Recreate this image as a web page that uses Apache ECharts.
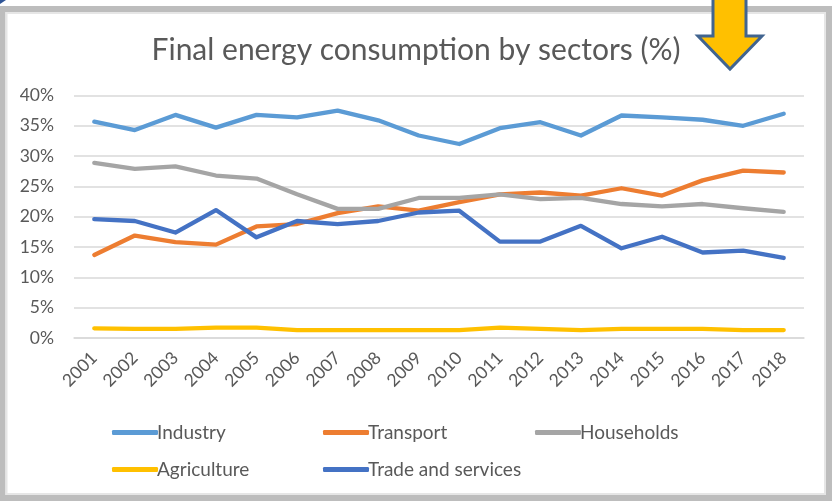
<!DOCTYPE html>
<html>
<head>
<meta charset="utf-8">
<script src="https://cdn.jsdelivr.net/npm/echarts@6/dist/echarts.min.js"></script>
<style>
html,body{margin:0;padding:0;background:#fff;}
#chart{width:832px;height:501px;}
</style>
</head>
<body>
<div id="chart"></div>
<script>
const years = ['2001','2002','2003','2004','2005','2006','2007','2008','2009','2010','2011','2012','2013','2014','2015','2016','2017','2018'];
const industry = [35.7,34.3,36.8,34.7,36.8,36.4,37.5,35.9,33.4,32.0,34.6,35.6,33.4,36.7,36.4,36.0,35.0,37.0];
const transport = [13.7,16.9,15.8,15.4,18.4,18.8,20.6,21.7,21.0,22.4,23.7,24.0,23.5,24.7,23.5,26.0,27.6,27.3];
const households = [28.9,27.9,28.3,26.8,26.3,23.7,21.3,21.3,23.1,23.1,23.7,22.9,23.1,22.1,21.7,22.1,21.4,20.8];
const agriculture = [1.6,1.5,1.5,1.7,1.7,1.3,1.3,1.3,1.3,1.3,1.7,1.5,1.3,1.5,1.5,1.5,1.3,1.3];
const trade = [19.6,19.3,17.4,21.1,16.6,19.3,18.8,19.3,20.7,21.0,15.9,15.9,18.5,14.8,16.7,14.1,14.4,13.2];
const yTicks = [0,5,10,15,20,25,30,35,40];

const names = ['Industry','Transport','Households','Agriculture','Trade and services'];
const colors = ['#5B9BD5','#ED7D31','#A5A5A5','#FFC000','#4472C4'];
const datas = [industry, transport, households, agriculture, trade];
const legendPos = [[107,418],[318,418],[530,418],[107,455],[318,455]];

const FONT = 'Lato';
const chart = echarts.init(document.getElementById('chart'));

const legends = names.map((n,i)=>({
  data:[n], left:legendPos[i][0], top:legendPos[i][1], itemWidth:46, itemHeight:5, itemGap:0,
  icon:'roundRect',
  textStyle:{fontFamily:FONT,fontSize:19,color:'#595959',padding:[0,0,0,-6]},
  selectedMode:false
}));

chart.setOption({
  animation:false,
  backgroundColor:'#fff',
  title:{text:'Final energy consumption by sectors (%)',left:'center',top:30,
    textStyle:{fontFamily:FONT,fontSize:30,fontWeight:'normal',color:'#595959'}},
  legend:legends,
  grid:{left:74,right:28,top:95.5,bottom:163,containLabel:false},
  xAxis:{type:'category',data:years,boundaryGap:true,
    axisLine:{lineStyle:{color:'#D9D9D9',width:1.5}},axisTick:{show:false},
    axisLabel:{rotate:45,fontFamily:FONT,fontSize:17.5,color:'#595959',margin:17,interval:0}},
  yAxis:{type:'value',min:yTicks[0],max:yTicks[yTicks.length-1],interval:5,
    axisLine:{show:false},axisTick:{show:false},
    splitLine:{lineStyle:{color:'#D9D9D9',width:1.5}},
    axisLabel:{formatter:'{value}%',fontFamily:FONT,fontSize:17.5,color:'#595959',margin:20}},
  series:names.map((n,i)=>({
    name:n,type:'line',data:datas[i],symbol:'none',
    lineStyle:{color:colors[i],width:4.3,cap:'round',join:'round'},
    itemStyle:{color:colors[i]}
  })),
  graphic:[
    {type:'rect',shape:{x:2.5,y:9,width:826.5,height:489},style:{fill:'none',stroke:'#BDBDBD',lineWidth:6},z:100},
    {type:'rect',shape:{x:6.5,y:13,width:818.5,height:481},style:{fill:'none',stroke:'#E6E6E6',lineWidth:2},z:100},
    {type:'polygon',shape:{points:[[0,0],[6,0],[0,4]]},style:{fill:'#2F5597'},z:101},
    {type:'polygon',shape:{points:[[713,-4],[746,-4],[746,36],[762,36],[730,69],[698,36],[713,36]]},
      style:{fill:'#FFC000',stroke:'#41648F',lineWidth:3,lineJoin:'miter'},z:101}
  ]
});
</script>
</body>
</html>
